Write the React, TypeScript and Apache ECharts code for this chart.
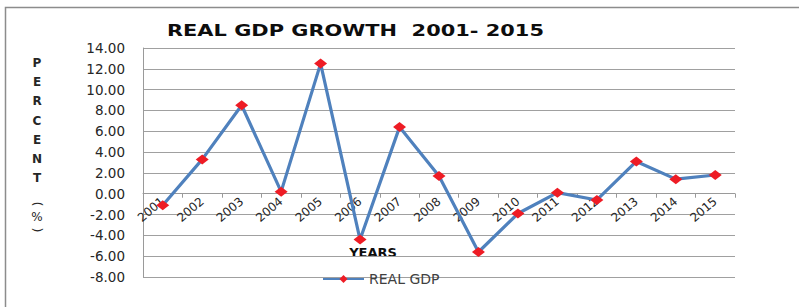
import React, { useEffect, useRef } from "react";
import * as echarts from "echarts";

const years = ["2001", "2002", "2003", "2004", "2005", "2006", "2007", "2008", "2009", "2010", "2011", "2012", "2013", "2014", "2015"];
const realGdp = [-1.1, 3.3, 8.5, 0.2, 12.5, -4.4, 6.4, 1.7, -5.6, -1.9, 0.1, -0.6, 3.1, 1.4, 1.8];
const yMin = -8;
const yMax = 14;
const yStep = 2;
const titleText = "REAL GDP GROWTH  2001- 2015";
const yNameLetters = ["P", "E", "R", "C", "E", "N", "T"];
const seriesName = "REAL GDP";
const xName = "YEARS";

function measure(font: string, text: string): number {
  const c = document.createElement("canvas");
  const ctx = c.getContext("2d");
  if (!ctx) return text.length * 10;
  ctx.font = font;
  return ctx.measureText(text).width;
}

export default function App() {
  const ref = useRef<HTMLDivElement>(null);
  useEffect(() => {
    if (!ref.current) return;
    const chart = echarts.init(ref.current, undefined, { renderer: "svg" });
    const titleFont = 'bold 16px "DejaVu Sans"';
    const titleW = measure(titleFont, titleText);
    const titleScale = 377 / titleW;

    const H = 307;
    const gridTop = 48;
    const gridBottom = 30;
    const gridH = H - gridTop - gridBottom;
    // move the category axis up to the zero line of the value axis
    const zeroOffset = -gridH * (0 - yMin) / (yMax - yMin);

    const letterEls: any[] = yNameLetters.map((ch, i) => ({
      type: "text",
      x: 37,
      y: 63 + i * 19.2,
      style: { text: ch, font: 'bold 12px "DejaVu Sans"', fill: "#262626", align: "center", verticalAlign: "middle" },
    }));
    letterEls.push(
      { type: "text", x: 37, y: 204, rotation: -Math.PI / 2, style: { text: "(", font: '13px "DejaVu Sans"', fill: "#262626", align: "center", verticalAlign: "middle" } },
      { type: "text", x: 37, y: 217, style: { text: "%", font: '12px "DejaVu Sans"', fill: "#262626", align: "center", verticalAlign: "middle" } },
      { type: "text", x: 37, y: 230, rotation: -Math.PI / 2, style: { text: ")", font: '13px "DejaVu Sans"', fill: "#262626", align: "center", verticalAlign: "middle" } }
    );

    chart.setOption({
      animation: false,
      backgroundColor: "#ffffff",
      grid: { left: 143, right: 64, top: gridTop, bottom: gridBottom },
      xAxis: {
        type: "category",
        data: years,
        boundaryGap: true,
        position: "bottom",
        offset: zeroOffset,
        axisLine: { show: true, onZero: false, lineStyle: { color: "#9a9a9a", width: 1 } },
        axisTick: { show: true, alignWithLabel: false, length: 4, lineStyle: { color: "#9a9a9a" } },
        axisLabel: { rotate: 40, margin: 6, interval: 0, color: "#262626", fontFamily: "DejaVu Sans", fontSize: 12 },
        splitLine: { show: false },
      },
      yAxis: {
        type: "value",
        min: yMin,
        max: yMax,
        interval: yStep,
        axisLine: { show: true, onZero: false, lineStyle: { color: "#9a9a9a", width: 1 } },
        axisTick: { show: false },
        axisLabel: {
          margin: 18,
          color: "#262626",
          fontFamily: "DejaVu Sans",
          fontSize: 13.5,
          formatter: (v: number) => v.toFixed(2),
        },
        splitLine: { show: true, lineStyle: { color: "#a0a0a0", width: 1 } },
      },
      legend: {
        show: true,
        left: 322,
        top: 272,
        itemWidth: 41,
        itemHeight: 10,
        padding: 0,
        textStyle: { color: "#404040", fontFamily: "DejaVu Sans", fontSize: 14 },
        data: [seriesName],
      },
      series: [
        {
          name: seriesName,
          type: "line",
          data: realGdp,
          symbol: "diamond",
          symbolSize: [13, 10],
          itemStyle: { color: "#ee1c25" },
          lineStyle: { color: "#4f81bd", width: 3.2 },
          z: 3,
        },
      ],
      graphic: [
        {
          type: "rect",
          silent: true,
          shape: { x: 5.5, y: 7.5, width: 900, height: 400 },
          style: { fill: "none", stroke: "#8c8c8c", lineWidth: 1.5 },
        },
        {
          type: "text",
          x: 167,
          y: 30.5,
          scaleX: titleScale,
          style: { text: titleText, font: titleFont, fill: "#0d0d0d", align: "left", verticalAlign: "middle" },
        },
        {
          type: "text",
          x: 373,
          y: 252,
          style: { text: xName, font: 'bold 13px "DejaVu Sans"', fill: "#0d0d0d", align: "center", verticalAlign: "middle" },
        },
        ...letterEls,
      ],
    });
    return () => chart.dispose();
  }, []);
  return <div ref={ref} style={{ position: "fixed", left: 0, top: 0, width: 799, height: 307 }} />;
}
